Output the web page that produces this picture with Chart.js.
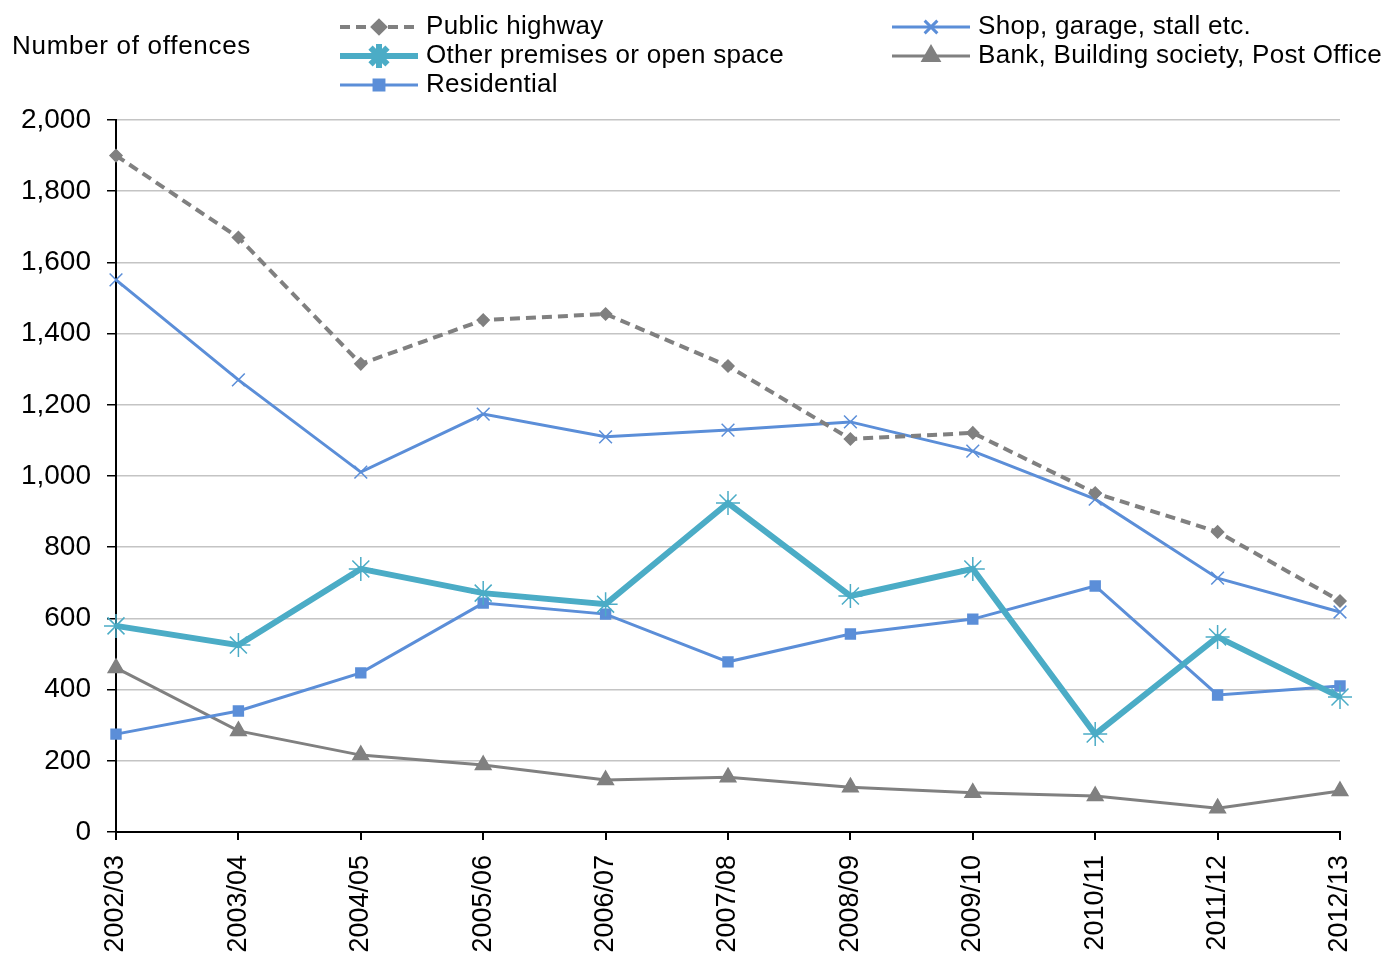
<!DOCTYPE html>
<html>
<head>
<meta charset="utf-8">
<script src="https://cdn.jsdelivr.net/npm/chart.js@4/dist/chart.umd.min.js"></script>
<style>
  html, body { margin: 0; padding: 0; background: #fff; }
  #wrap { position: relative; width: 1384px; height: 958px; }
</style>
</head>
<body>
<div id="wrap"><canvas id="offencesChart"></canvas></div>
<script>
// Data
const years = ['2002/03', '2003/04', '2004/05', '2005/06', '2006/07', '2007/08', '2008/09', '2009/10', '2010/11', '2011/12', '2012/13'];
const publicHighway = [1900, 1670, 1315, 1438, 1455, 1309, 1104, 1121, 952, 843, 649];
const shopGarage = [1551, 1270, 1011, 1174, 1110, 1129, 1152, 1070, 935, 713, 618];
const otherPremises = [579, 525, 739, 671, 640, 924, 663, 739, 275, 548, 379];
const residential = [275, 340, 447, 643, 612, 478, 556, 598, 691, 385, 410];
const bankPostOffice = [461, 284, 216, 188, 146, 154, 126, 110, 101, 67, 115];
const yTicks = [0, 200, 400, 600, 800, 1000, 1200, 1400, 1600, 1800, 2000];

const FONT = "'Liberation Sans', Arial, sans-serif";
const GREY = '#808080';
const BLUE = '#5B8ED8';
const TEAL = '#4BACC6';

// Legend layout (where each legend entry sits)
const legendSlots = [
  { x: 340, y: 27 },   // Public highway
  { x: 340, y: 56 },   // Other premises
  { x: 340, y: 85 },   // Residential
  { x: 892, y: 27 },   // Shop
  { x: 892, y: 56 }    // Bank
];
const legendOrder = [0, 2, 3, 1, 4];

// Custom legend + axis title, drawn on the canvas
const legendPlugin = {
  id: 'offencesLegend',
  afterDraw(chart) {
    const ctx = chart.ctx;
    ctx.save();
    ctx.fillStyle = '#000';
    ctx.font = '26px ' + FONT;
    ctx.textBaseline = 'middle';
    ctx.textAlign = 'left';
    ctx.letterSpacing = '0.7px';
    ctx.fillText('Number of offences', 12, 47);

    legendOrder.forEach((dsIndex, i) => {
      const ds = chart.data.datasets[dsIndex];
      const slot = legendSlots[i];
      const x0 = slot.x, x1 = slot.x + 78, xm = (x0 + x1) / 2;

      ctx.save();
      ctx.strokeStyle = ds.borderColor;
      ctx.lineWidth = ds.borderWidth;
      ctx.setLineDash(ds.borderDash || []);
      ctx.beginPath();
      ctx.moveTo(x0, slot.y);
      ctx.lineTo(x1, slot.y);
      ctx.stroke();
      ctx.setLineDash([]);

      ctx.fillStyle = ds.pointBackgroundColor;
      ctx.strokeStyle = ds.pointBorderColor;
      Chart.helpers.drawPoint(ctx, {
        pointStyle: ds.pointStyle,
        radius: ds.pointRadius,
        rotation: 0,
        borderWidth: ds.pointBorderWidth
      }, xm, slot.y);
      ctx.restore();

      ctx.fillStyle = '#000';
      ctx.font = '26px ' + FONT;
      ctx.letterSpacing = '0.3px';
      ctx.textBaseline = 'middle';
      ctx.fillText(ds.label, x1 + 8, slot.y);
    });
    ctx.restore();
  }
};

function lineSeries(label, data, color, width, style, radius, extra) {
  return Object.assign({
    label: label,
    data: data,
    borderColor: color,
    backgroundColor: color,
    borderWidth: width,
    pointStyle: style,
    pointRadius: radius,
    pointHoverRadius: radius,
    pointBackgroundColor: color,
    pointBorderColor: color,
    pointBorderWidth: 1.5,
    tension: 0,
    fill: false
  }, extra || {});
}

const ctx = document.getElementById('offencesChart').getContext('2d');
new Chart(ctx, {
  type: 'line',
  data: {
    labels: years,
    datasets: [
      lineSeries('Public highway', publicHighway, GREY, 4, 'rectRot', 6, { borderDash: [10, 6] }),
      lineSeries('Shop, garage, stall etc.', shopGarage, BLUE, 3, 'crossRot', 9),
      lineSeries('Other premises or open space', otherPremises, TEAL, 6, 'star', 12),
      lineSeries('Residential', residential, BLUE, 3, 'rect', 7),
      lineSeries('Bank, Building society, Post Office', bankPostOffice, GREY, 3, 'triangle', 9)
    ]
  },
  options: {
    responsive: true,
    maintainAspectRatio: false,
    animation: false,
    layout: { padding: { top: 120, right: 44, left: 0, bottom: 0 } },
    plugins: {
      legend: { display: false },
      tooltip: { enabled: false }
    },
    scales: {
      x: {
        offset: false,
        grid: { drawOnChartArea: false, drawTicks: true, tickLength: 8, color: '#000', lineWidth: 2 },
        border: { color: '#000', width: 2 },
        ticks: {
          color: '#000',
          font: { family: FONT, size: 27 },
          minRotation: 90,
          maxRotation: 90,
          padding: 15,
          autoSkip: false
        },
        afterFit(scale) {
          scale.height = 126;
          scale.paddingRight = 0;
        }
      },
      y: {
        min: 0,
        max: 2000,
        afterBuildTicks(scale) { scale.ticks = yTicks.map(v => ({ value: v })); },
        grid: { color: '#c4c4c4', lineWidth: 1.5, tickColor: '#000', tickLength: 9 },
        border: { color: '#000', width: 2 },
        ticks: {
          color: '#000',
          font: { family: FONT, size: 28 },
          padding: 16,
          callback: v => v.toLocaleString('en-GB')
        },
        afterFit(scale) { scale.width = 116; }
      }
    }
  },
  plugins: [legendPlugin]
});
</script>
</body>
</html>
